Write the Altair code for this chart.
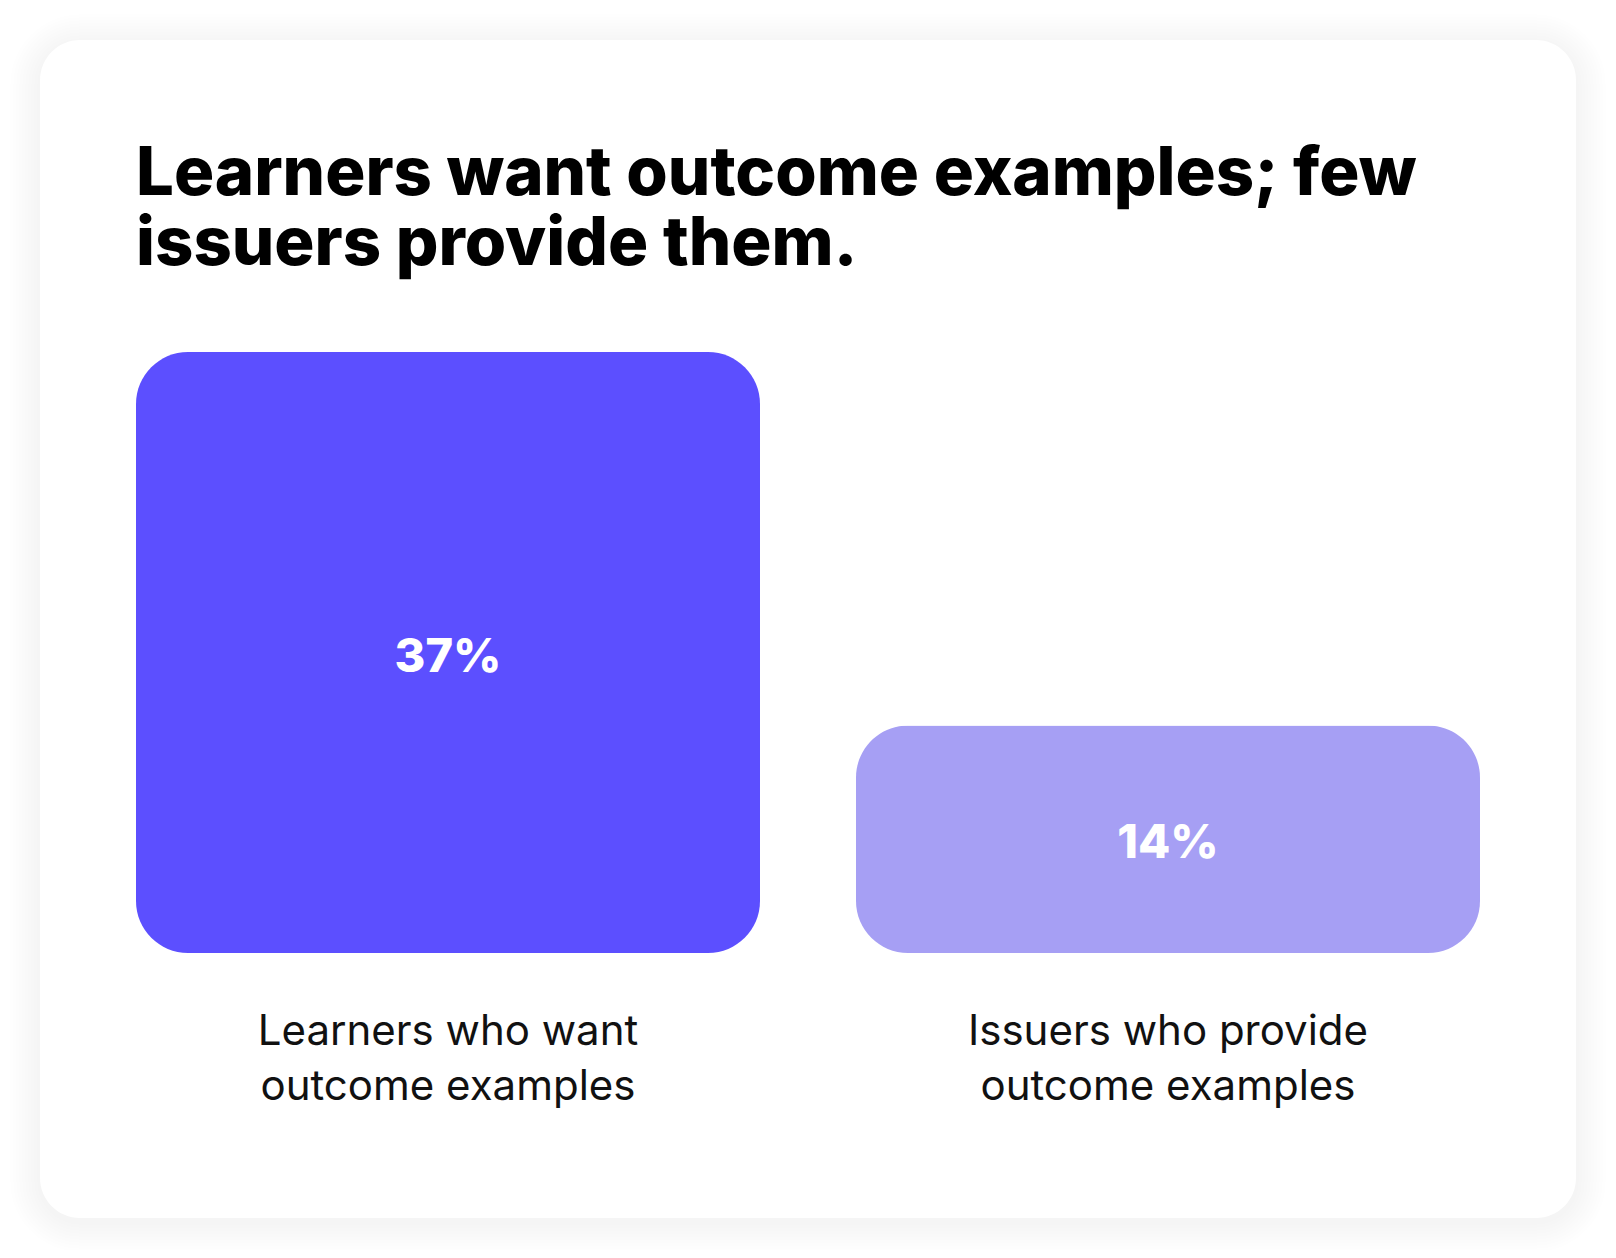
import altair as alt
import pandas as pd

# ---- data ----
categories = ["Learners who want\noutcome examples", "Issuers who provide\noutcome examples"]
values = [37, 14]
bar_colors = ["#5C4FFF", "#A69FF4"]
title_lines = ["Learners want outcome examples; few", "issuers provide them."]

df = pd.DataFrame({"category": categories, "value": values})

# ---- layout constants (pixels) ----
W, H = 1344, 601
PAD_L, PAD_T = 128, 344
# card relative to plot origin
CX0, CY0, CX1, CY1 = -96, -312, 1440, 866
CARD_R = 40
FONT = "Inter"

one = alt.Data(values=[{"k": 1}])

layers = []
# soft shadow halo
for i in range(10, 0, -1):
    e = i * 3
    layers.append(
        alt.Chart(one).mark_rect(
            cornerRadius=CARD_R + e, color="#000000", opacity=0.0035
        ).encode(
            x=alt.value(CX0 - e), x2=alt.value(CX1 + e),
            y=alt.value(CY0 - e + 4), y2=alt.value(CY1 + e + 4),
        )
    )
# card
layers.append(
    alt.Chart(one).mark_rect(cornerRadius=CARD_R, color="#FFFFFF").encode(
        x=alt.value(CX0), x2=alt.value(CX1), y=alt.value(CY0), y2=alt.value(CY1)
    )
)

# title as text
title = alt.Chart(alt.Data(values=[{"t": "\n".join(title_lines)}])).mark_text(
    font=FONT, fontSize=67, fontWeight=800, color="#000000",
    align="left", baseline="alphabetic", lineHeight=70, lineBreak="\n",
).encode(x=alt.value(0), y=alt.value(-157), text="t:N")
layers.append(title)

base = alt.Chart(df)

xenc = alt.X(
    "category:N",
    sort=categories,
    scale=alt.Scale(paddingInner=96 / 720, paddingOuter=0),
    axis=alt.Axis(
        title=None, domain=False, ticks=False, tickSize=0, grid=False,
        labelAngle=0, labelFont=FONT, labelFontSize=42, labelColor="#111111",
        labelLineHeight=55, labelPadding=58, labelBaseline="top", labelLimit=0,
        labelExpr="split(datum.label, '\\n')", zindex=1,
    ),
)

bars = base.mark_bar(cornerRadius=52).encode(
    x=xenc,
    y=alt.Y("value:Q", scale=alt.Scale(domain=[0, 37], nice=False), axis=None),
    color=alt.Color("category:N", sort=categories,
                    scale=alt.Scale(domain=categories, range=bar_colors), legend=None),
)

labels = base.transform_calculate(
    mid="datum.value / 2", txt="datum.value + '%'"
).mark_text(
    font=FONT, fontSize=47, fontWeight=800, color="#FFFFFF",
    align="center", baseline="middle", dy=5,
).encode(
    x=alt.X("category:N", sort=categories),
    y=alt.Y("mid:Q"),
    text="txt:N",
)

layers += [bars, labels]

chart = alt.layer(*layers).properties(
    width=W, height=H,
    padding={"left": PAD_L, "top": PAD_T, "right": 128, "bottom": 297},
    autosize=alt.AutoSizeParams(type="none"),
).configure_view(stroke=None).configure(background="#FFFFFF")

chart.save("out.html", embed_options={"renderer": "svg", "actions": False})
